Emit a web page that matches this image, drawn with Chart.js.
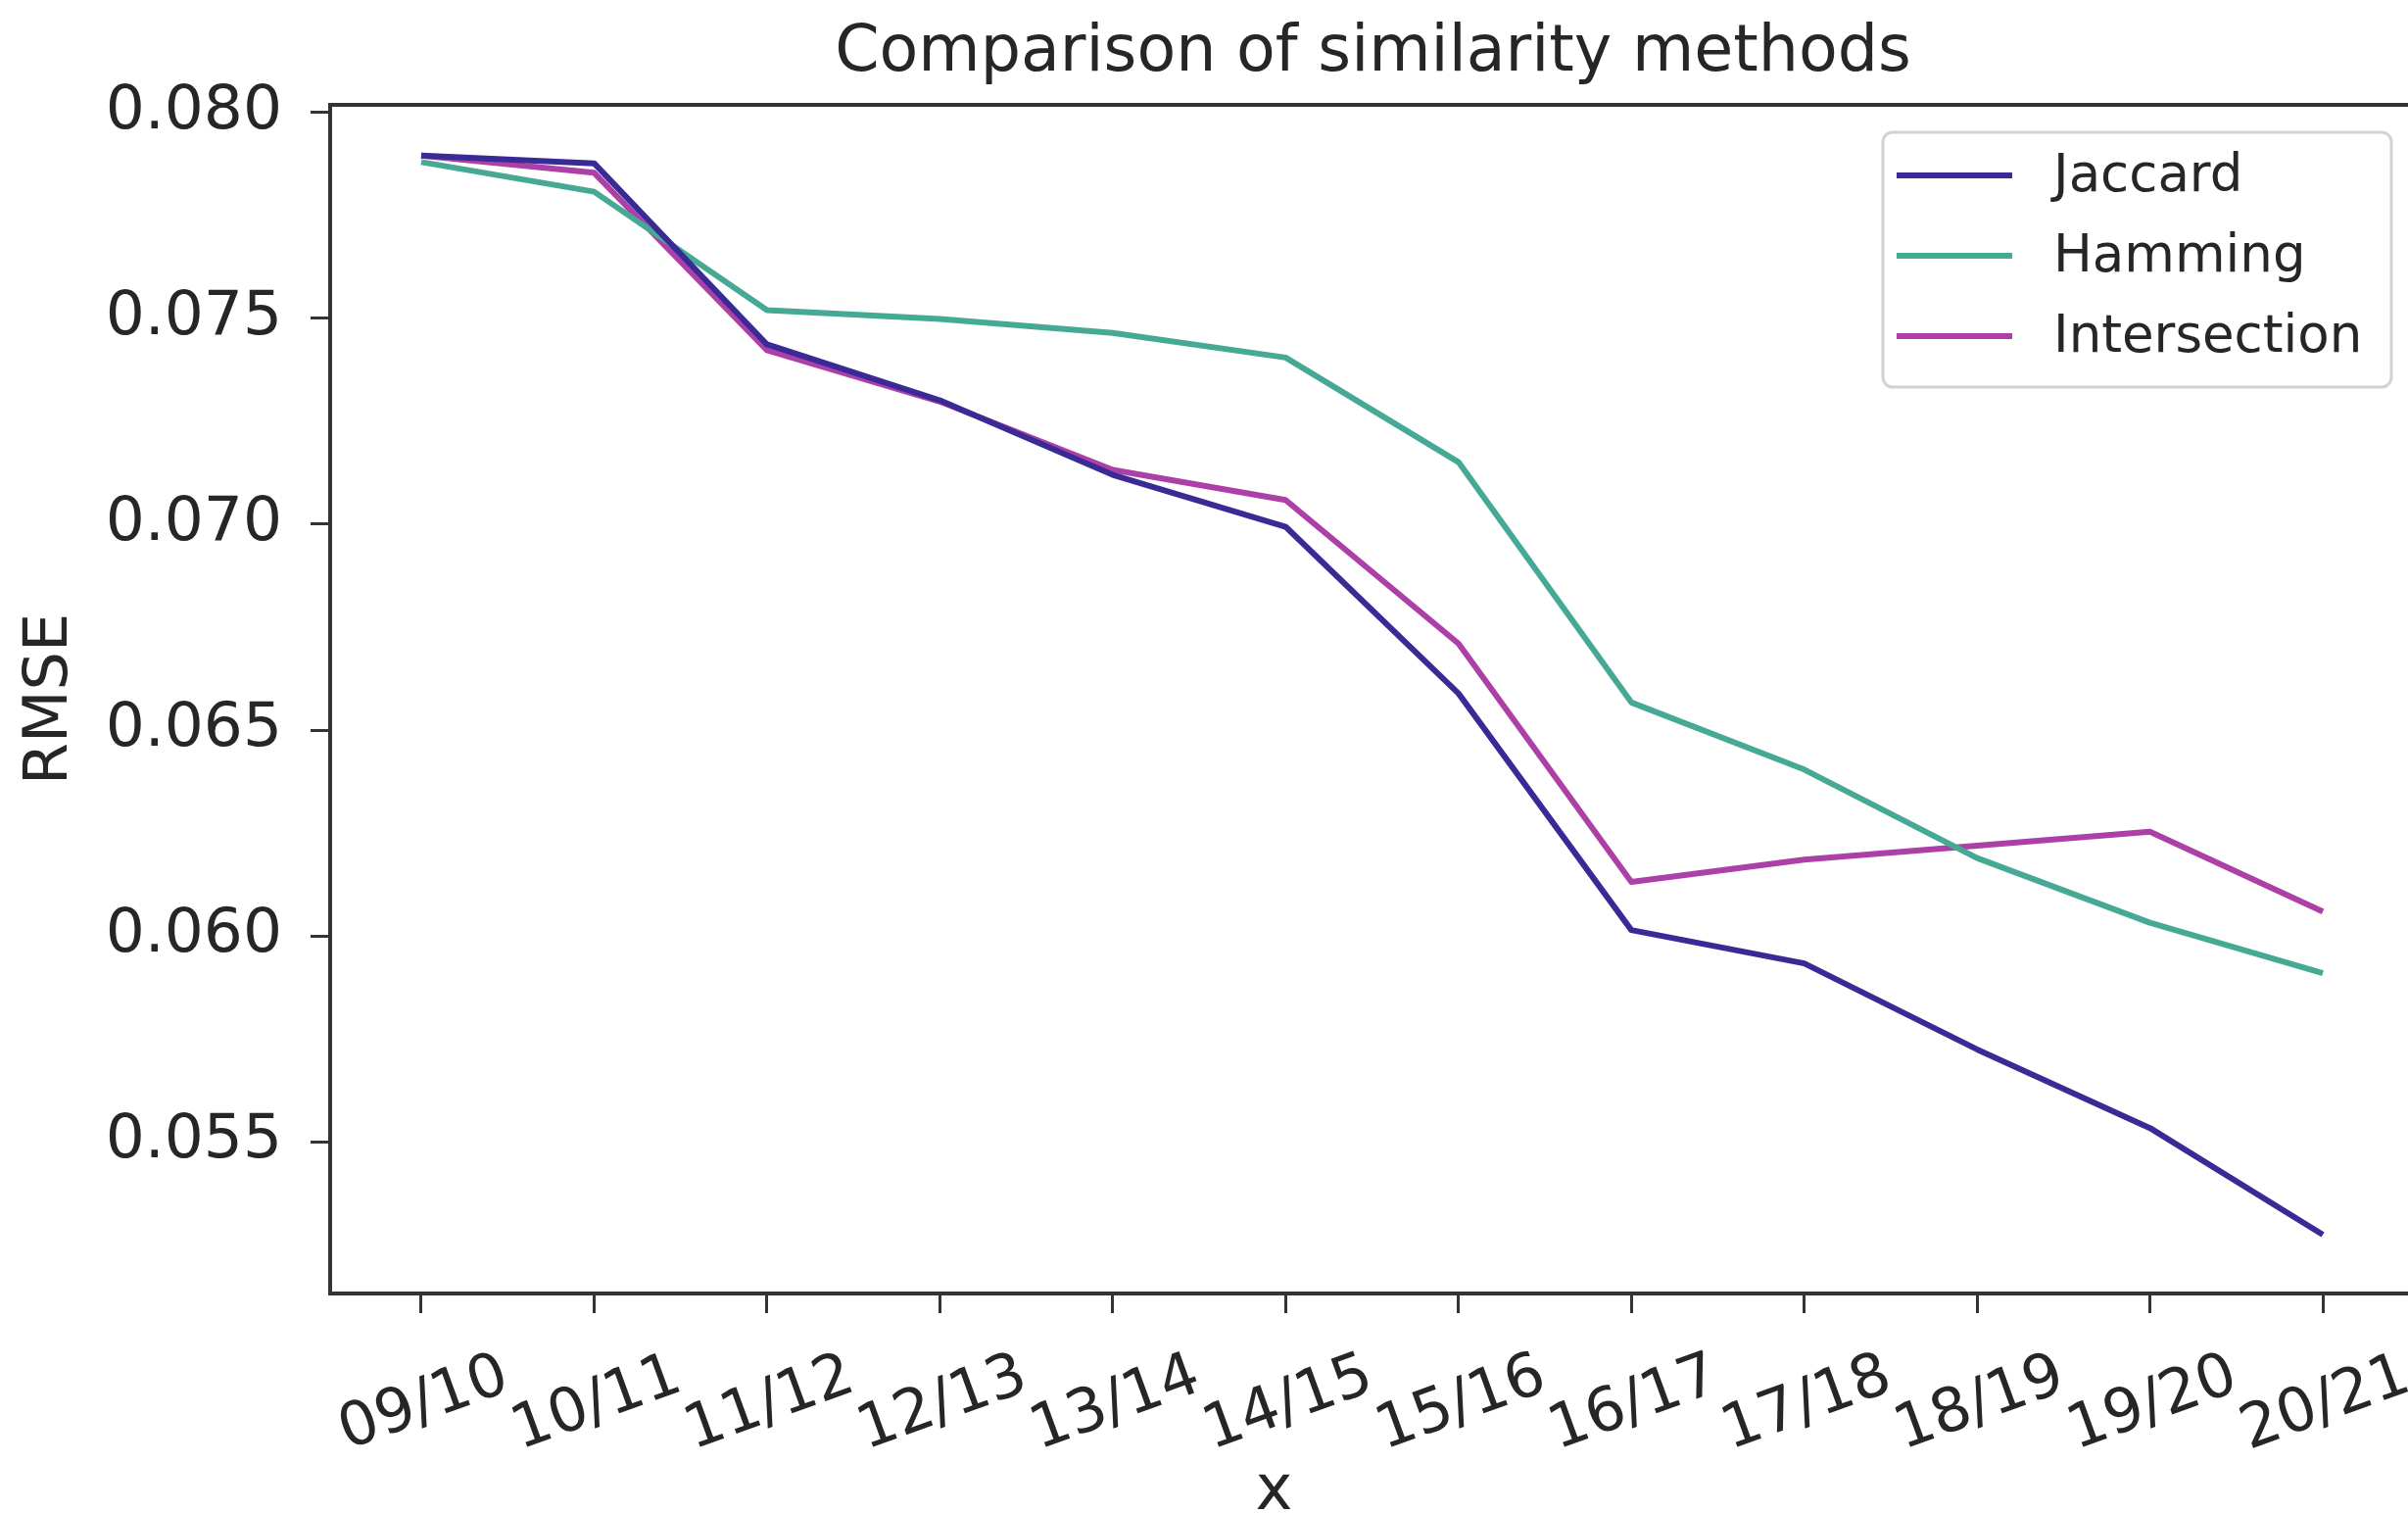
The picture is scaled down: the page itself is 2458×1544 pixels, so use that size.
<!DOCTYPE html>
<html>
<head>
<meta charset="utf-8">
<script src="https://cdn.jsdelivr.net/npm/chart.js@4/dist/chart.umd.min.js"></script>
<style>
  html, body { margin: 0; padding: 0; background: #fff; overflow: hidden; }
  canvas { display: block; }
</style>
</head>
<body>
<canvas id="myChart" width="2466" height="1544"></canvas>
<script>
// data
const seasons = ['09/10', '10/11', '11/12', '12/13', '13/14', '14/15', '15/16', '16/17', '17/18', '18/19', '19/20', '20/21']
const jaccard = [0.07896, 0.07877, 0.07437, 0.07301, 0.07120, 0.06994, 0.06589, 0.06014, 0.05933, 0.05724, 0.05533, 0.05274]
const hamming = [0.07880, 0.07808, 0.07520, 0.07499, 0.07465, 0.07405, 0.07151, 0.06567, 0.06404, 0.06189, 0.06032, 0.05909]
const intersection = [0.07896, 0.07854, 0.07423, 0.07298, 0.07132, 0.07059, 0.06710, 0.06131, 0.06185, 0.06219, 0.06253, 0.06059]
const yTicks = [0.055, 0.060, 0.065, 0.070, 0.075, 0.080]

const textColor = '#262626'
const axisColor = '#333333'

Chart.defaults.font.family = "'DejaVu Sans', sans-serif"
Chart.defaults.color = textColor

function toPoints(values) {
  return values.map((v, i) => ({ x: i, y: v }))
}

// box round the plot, like matplotlib spines
const framePlugin = {
  id: 'frame',
  afterDatasetsDraw(chart) {
    let a = chart.chartArea
    let ctx = chart.ctx
    ctx.save()
    ctx.strokeStyle = axisColor
    ctx.lineWidth = 4
    ctx.strokeRect(a.left, a.top, a.right - a.left, a.bottom - a.top)
    ctx.restore()
  }
}

// legend box in the upper right corner of the plot
const legendBoxPlugin = {
  id: 'legendBox',
  afterDraw(chart) {
    let a = chart.chartArea
    let ctx = chart.ctx
    let w = 519, h = 260
    let left = a.right - 25 - w
    let top = a.top + 28
    ctx.save()
    ctx.beginPath()
    ctx.roundRect(left, top, w, h, 10)
    ctx.fillStyle = 'rgba(255,255,255,0.85)'
    ctx.fill()
    ctx.strokeStyle = '#d2d2d2'
    ctx.lineWidth = 3
    ctx.stroke()

    ctx.font = "53px 'DejaVu Sans'"
    ctx.textBaseline = 'middle'
    ctx.textAlign = 'left'
    chart.data.datasets.forEach((ds, i) => {
      let y = top + 44 + i * 82
      ctx.beginPath()
      ctx.moveTo(left + 14, y)
      ctx.lineTo(left + 132, y)
      ctx.strokeStyle = ds.borderColor
      ctx.lineWidth = 6
      ctx.stroke()
      ctx.fillStyle = textColor
      ctx.fillText(ds.label, left + 174, y + 2)
    })

    // x axis label
    ctx.font = "64px 'DejaVu Sans'"
    ctx.textAlign = 'center'
    ctx.textBaseline = 'alphabetic'
    ctx.fillText('x', (a.left + a.right) / 2 - 101, 1540)
    ctx.restore()
  }
}

let ctx = document.getElementById('myChart').getContext('2d')

let myLineChart = new Chart(ctx, {
  type: 'line',
  data: {
    datasets: [{
      label: 'Jaccard',
      borderColor: '#392a96',
      backgroundColor: '#392a96',
      data: toPoints(jaccard)
    }, {
      label: 'Hamming',
      borderColor: '#46a995',
      backgroundColor: '#46a995',
      data: toPoints(hamming)
    }, {
      label: 'Intersection',
      borderColor: '#ad40a6',
      backgroundColor: '#ad40a6',
      data: toPoints(intersection)
    }]
  },
  options: {
    responsive: false,
    animation: false,
    devicePixelRatio: 1,
    layout: { padding: { left: 15, top: 0, right: 0, bottom: 0 } },
    elements: {
      line: { borderWidth: 6, tension: 0, fill: false, borderJoinStyle: 'round' },
      point: { radius: 0, hoverRadius: 0 }
    },
    plugins: {
      legend: { display: false },
      tooltip: { enabled: false },
      title: {
        display: true,
        text: 'Comparison of similarity methods',
        fullSize: false,
        color: textColor,
        font: { size: 65, weight: 'normal' },
        padding: { top: 16, bottom: 13 }
      }
    },
    scales: {
      x: {
        type: 'linear',
        min: -0.527,
        max: 11.538,
        afterBuildTicks(scale) {
          scale.ticks = seasons.map((s, i) => ({ value: i }))
        },
        afterFit(scale) {
          scale.height = 224
        },
        ticks: {
          autoSkip: false,
          minRotation: 20,
          maxRotation: 20,
          labelOffset: 87,
          padding: 28,
          color: textColor,
          font: { size: 62 },
          callback: (v) => seasons[v]
        },
        grid: {
          drawOnChartArea: false,
          drawTicks: true,
          tickLength: 20,
          tickWidth: 3,
          tickColor: axisColor
        },
        border: { display: true, color: axisColor, width: 4 }
      },
      y: {
        min: 0.05131,
        max: 0.08019,
        afterBuildTicks(scale) {
          scale.ticks = yTicks.map(v => ({ value: v }))
        },
        afterFit(scale) {
          scale.width = 322
        },
        ticks: {
          padding: 29,
          color: textColor,
          font: { size: 63 },
          callback: (v) => v.toFixed(3)
        },
        grid: {
          drawOnChartArea: false,
          drawTicks: true,
          tickLength: 20,
          tickWidth: 3,
          tickColor: axisColor
        },
        border: { display: true, color: axisColor, width: 4 },
        title: {
          display: true,
          text: 'RMSE',
          color: textColor,
          font: { size: 62 },
          padding: { top: 0, bottom: 0 }
        }
      }
    }
  },
  plugins: [framePlugin, legendBoxPlugin]
})
</script>
</body>
</html>
